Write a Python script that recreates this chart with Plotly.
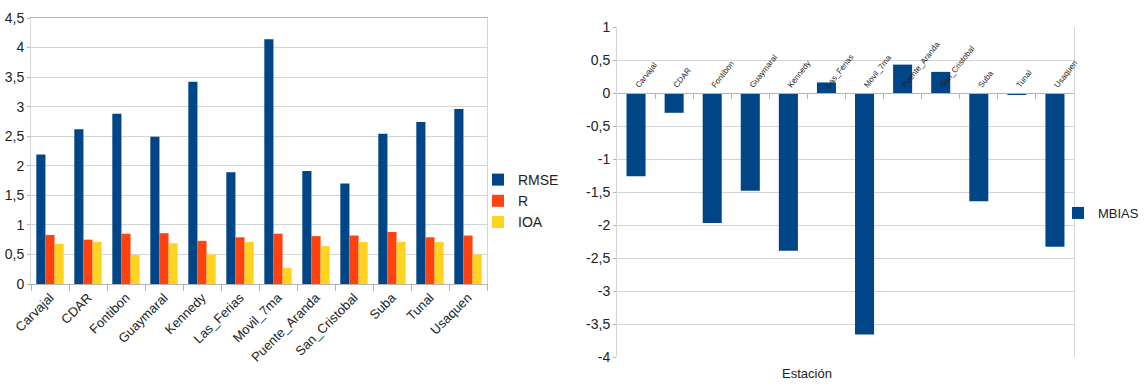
import plotly.graph_objects as go

# estaciones de monitoreo
stations = ['Carvajal', 'CDAR', 'Fontibon', 'Guaymaral', 'Kennedy', 'Las_Ferias',
            'Movil_7ma', 'Puente_Aranda', 'San_Cristobal', 'Suba', 'Tunal', 'Usaquen']

rmse = [2.19, 2.62, 2.88, 2.49, 3.42, 1.89, 4.14, 1.91, 1.70, 2.54, 2.74, 2.96]
r_corr = [0.83, 0.75, 0.85, 0.86, 0.73, 0.79, 0.85, 0.81, 0.82, 0.88, 0.79, 0.82]
ioa = [0.68, 0.71, 0.49, 0.69, 0.50, 0.71, 0.27, 0.64, 0.71, 0.71, 0.71, 0.50]

mbias = [-1.26, -0.30, -1.97, -1.48, -2.39, 0.16, -3.66, 0.43, 0.32, -1.64, -0.03, -2.33]

left_ticks = [0, 0.5, 1, 1.5, 2, 2.5, 3, 3.5, 4, 4.5]
right_ticks = [1, 0.5, 0, -0.5, -1, -1.5, -2, -2.5, -3, -3.5, -4]

W, H = 1145, 392
FONT = 'Liberation Sans'
GRID = '#d4d4d4'
AXIS = '#b3b3b3'


def fmt(v):
    # coma decimal y guion simple como en LibreOffice
    return ('%g' % v).replace('.', ',')


def px_x(p):
    return p / W


def px_y(p):
    return 1 - p / H


fig = go.Figure()

colors = {'RMSE': '#004586', 'R': '#ff420e', 'IOA': '#ffd320'}
for name, vals in [('RMSE', rmse), ('R', r_corr), ('IOA', ioa)]:
    fig.add_trace(go.Bar(x=stations, y=vals, name=name, marker_color=colors[name],
                         marker_line_width=0, xaxis='x', yaxis='y', legend='legend'))

fig.add_trace(go.Bar(x=stations, y=mbias, name='MBIAS', marker_color='#004586',
                     marker_line_width=0, xaxis='x2', yaxis='y2', legend='legend2',
                     width=0.5))

left_dom_y = [px_y(284), px_y(18)]
right_dom_y = [px_y(357), px_y(27)]
zero_pos = right_dom_y[0] + (0 - (-4)) / 5 * (right_dom_y[1] - right_dom_y[0])

fig.update_layout(
    width=W, height=H,
    margin=dict(l=0, r=0, t=0, b=0, autoexpand=False),
    paper_bgcolor='white', plot_bgcolor='white',
    font=dict(family=FONT, size=13, color='#222222'),
    barmode='group', bargap=0.28, bargroupgap=0,
    xaxis=dict(domain=[px_x(31), px_x(487)], anchor='y', type='category',
               automargin=False,
               tickangle=-45, tickson='boundaries', ticks='outside', ticklen=6,
               tickcolor=AXIS, showline=True, linecolor=AXIS, mirror=True,
               showgrid=False, tickfont=dict(size=13)),
    yaxis=dict(domain=left_dom_y, anchor='x', range=[0, 4.5], automargin=False,
               tickvals=left_ticks, ticktext=[fmt(v) for v in left_ticks],
               showgrid=True, gridcolor=GRID, zeroline=False,
               showline=True, linecolor=GRID, mirror=True,
               ticks='outside', ticklen=3, tickcolor=AXIS, tickfont=dict(size=14)),
    xaxis2=dict(domain=[px_x(617), px_x(1074)], anchor='free', position=zero_pos,
                automargin=False,
                side='top', type='category', tickangle=-52, tickson='boundaries',
                ticks='inside', ticklen=5, tickcolor=AXIS, showline=True,
                linecolor=AXIS, showgrid=False, tickfont=dict(size=8)),
    yaxis2=dict(domain=right_dom_y, anchor='x2', range=[-4, 1], automargin=False,
                tickvals=right_ticks, ticktext=[fmt(v) for v in right_ticks],
                showgrid=True, gridcolor=GRID, zeroline=False,
                showline=True, linecolor=GRID, mirror=True,
                ticks='outside', ticklen=3, tickcolor=AXIS, tickfont=dict(size=14)),
    legend=dict(x=px_x(478), y=px_y(201), xanchor='left', yanchor='middle',
                font=dict(size=14), itemwidth=30, tracegroupgap=0,
                bgcolor='rgba(0,0,0,0)'),
    legend2=dict(x=px_x(1058), y=px_y(213), xanchor='left', yanchor='middle',
                 font=dict(size=13), itemwidth=30, bgcolor='rgba(0,0,0,0)'),
    annotations=[dict(text='Estación', xref='paper', yref='paper',
                      x=px_x(834), y=px_y(383), showarrow=False,
                      font=dict(size=13, color='#222222'))],
)

# quitar el margen del <body> para que el grafico ocupe toda la ventana
fig.write_html('out.html', config={'displayModeBar': False},
               post_script="document.body.style.margin='0';")
